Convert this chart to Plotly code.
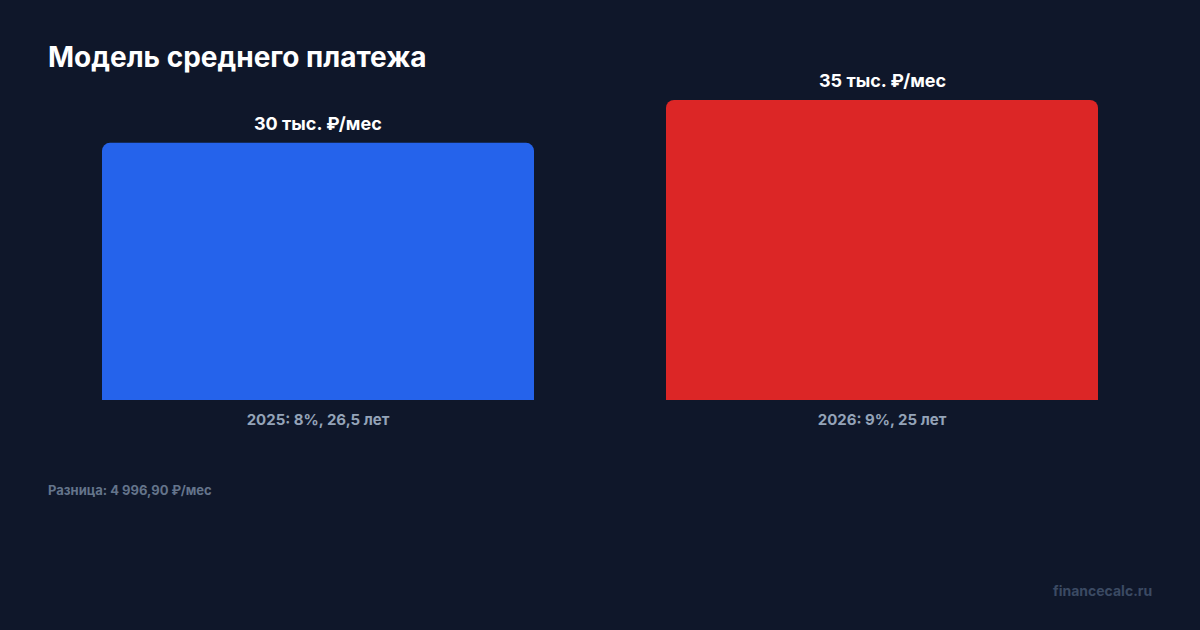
import plotly.graph_objects as go

categories = ["2025: 8%, 26,5 лет", "2026: 9%, 25 лет"]
payments = [30000.00, 34996.90]
value_labels = ["30 тыс. ₽/мес", "35 тыс. ₽/мес"]
colors = ["#2563eb", "#dc2626"]
diff_text = "Разница: 4 996,90 ₽/мес"

W, H = 1200, 630
top, bottom = 60, 230
plot_h = H - top - bottom
ymax = max(payments) * plot_h / 300.0

fig = go.Figure()
fig.add_trace(go.Bar(
    x=categories, y=payments, marker=dict(color=colors, line=dict(width=0)),
    hoverinfo="skip", showlegend=False,
))
for c, v, t in zip(categories, payments, value_labels):
    fig.add_annotation(x=c, y=v, xref="x", yref="y", text=f"<b>{t}</b>",
                       showarrow=False, yanchor="bottom", yshift=7,
                       font=dict(family="Inter", size=18, color="#ffffff"))

fig.add_annotation(xref="paper", yref="paper", x=(46 - 36) / (W - 72), xanchor="left",
                   y=(H - bottom - 490) / plot_h, yanchor="middle", showarrow=False,
                   text=f"<b>{diff_text}</b>",
                   font=dict(family="Inter", size=13, color="#64748b"))
fig.add_annotation(xref="paper", yref="paper", x=(1154 - 36) / (W - 72), xanchor="right",
                   y=(H - bottom - 590) / plot_h, yanchor="middle", showarrow=False,
                   text="<b>financecalc.ru</b>",
                   font=dict(family="Inter", size=14, color="#3b4a63"))

fig.update_layout(
    width=W, height=H,
    margin=dict(l=36, r=36, t=top, b=bottom),
    paper_bgcolor="#0f172a", plot_bgcolor="#0f172a",
    bargap=0.234, barcornerradius=8,
    title=dict(text="<b>Модель среднего платежа</b>", xref="container", yref="container",
               x=48 / W, xanchor="left", y=1 - 57 / H, yanchor="middle",
               font=dict(family="Inter", size=28, color="#ffffff")),
    xaxis=dict(showgrid=False, zeroline=False, showline=False, ticks="",
               ticklabelstandoff=9,
               tickfont=dict(family="Inter", size=15, color="#94a3b8", weight="bold")),
    yaxis=dict(range=[0, ymax], visible=False, showgrid=False, zeroline=False),
)
fig.write_html("out.html")
